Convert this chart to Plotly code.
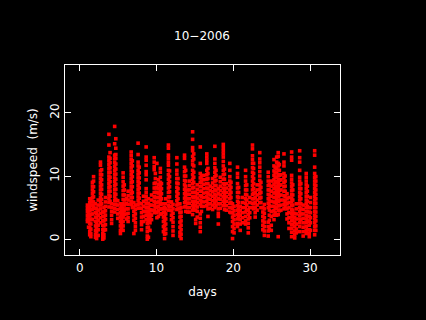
import plotly.graph_objects as go

# one strip of readings per time slice: day, then the speeds (m/s) seen there
STRIP_DAYS = [
    1.0, 1.15, 1.3, 1.45, 1.65, 1.8, 2.05, 2.2, 2.4, 2.7, 2.85, 3.0, 3.15, 3.35, 3.8, 3.95,
    4.15, 4.55, 4.7, 4.95, 5.3, 5.45, 5.65, 5.8, 6.1, 6.3, 6.7, 6.85, 7.05, 7.25, 7.6, 7.75,
    8.05, 8.3, 8.65, 8.8, 8.95, 9.15, 9.35, 9.7, 9.85, 10.05, 10.25, 10.5, 10.65, 10.9, 11.05, 11.2,
    11.55, 11.7, 11.95, 12.15, 12.65, 12.8, 13.05, 13.2, 13.65, 13.8, 14.05, 14.3, 14.7, 14.85, 15.1, 15.3,
    15.7, 15.85, 16.15, 16.55, 16.7, 17.0, 17.3, 17.6, 17.75, 18.05, 18.3, 18.7, 18.85, 19.1, 19.55, 19.7,
    19.9, 20.1, 20.55, 20.7, 20.9, 21.2, 21.6, 21.75, 21.95, 22.15, 22.5, 22.65, 22.85, 23.1, 23.45, 23.6,
    23.85, 24.05, 24.55, 24.7, 24.95, 25.3, 25.45, 25.65, 25.85, 26.0, 26.2, 26.6, 26.75, 27.0, 27.25, 27.6,
    27.75, 28.0, 28.2, 28.65, 28.8, 29.1, 29.5, 29.65, 29.9, 30.05, 30.6, 30.75,
]
STRIP_SPEEDS = [
    [5.4, 4.9, 4.4, 3.8, 3.2, 2.8],
    [5.2, 4.6, 4.0, 3.4, 2.8, 1.9],
    [6.4, 5.8, 5.1, 4.5, 3.8, 3.1, 2.5, 1.8, 1.2, 0.7],
    [6.2, 5.4, 4.7, 3.9, 3.2, 2.4, 1.6, 0.9, 0.4],
    [9.0, 8.4, 7.8, 7.2, 6.6, 6.0, 5.4, 4.7, 4.0, 3.1],
    [9.9, 9.2, 8.3, 7.5, 6.7, 5.9, 5.1],
    [5.6, 4.9, 4.2, 3.5, 2.8, 2.1, 1.4, 0.8, 0.3],
    [4.8, 4.1, 3.4, 2.6, 1.9, 1.2, 0.6, 0.1],
    [6.2, 5.4, 4.6, 3.8, 3.0, 2.2, 1.5, 0.6],
    [12.2, 11.7, 10.8, 10.2, 9.6, 9.0, 8.4, 7.8, 7.2, 6.6, 6.0, 5.4, 4.8, 4.1, 3.4, 2.6],
    [11.0, 10.2, 9.4, 8.6, 7.9, 7.1, 6.3, 5.6],
    [4.3, 3.6, 2.9, 2.2, 1.5, 0.9, 0.4, 0.0],
    [5.0, 4.3, 3.6, 2.9, 2.1, 1.4, 0.7, 0.2],
    [6.6, 5.9, 5.2, 4.5, 3.8, 3.1, 2.3, 1.5],
    [16.6, 14.9, 13.0, 12.4, 11.8, 11.2, 10.6, 10.0, 9.4, 8.8, 8.2, 7.6, 7.0, 6.4, 5.8, 5.1],
    [13.7, 12.8, 12.1, 11.3, 10.6, 9.8, 9.1, 8.3, 7.6, 6.8, 6.0],
    [5.6, 5.0, 4.4, 3.8, 3.1, 2.5],
    [17.85, 15.1, 13.3, 12.7, 12.1, 11.5, 10.9, 10.3, 9.7, 9.1, 8.5, 7.9, 7.3, 6.7, 6.1, 5.5, 4.9, 4.3],
    [15.9, 14.4, 13.4, 12.8, 11.9, 11.1, 10.3, 9.5, 8.7, 7.9, 7.1, 6.3, 5.5],
    [6.1, 5.4, 4.7, 4.0, 3.3],
    [5.6, 4.9, 4.2, 3.5, 2.8, 2.1, 1.4, 0.9],
    [5.2, 4.5, 3.8, 3.1, 2.4, 1.7],
    [10.5, 9.8, 9.1, 8.4, 7.7, 7.0, 6.3, 5.6, 4.9, 4.2, 3.5, 2.8, 2.1, 1.4],
    [8.6, 7.8, 7.0, 6.2, 5.4, 4.6, 3.9],
    [6.4, 5.6, 4.8, 4.0, 3.2],
    [7.6, 6.9, 6.2, 5.5, 4.8, 4.1, 3.4, 2.8],
    [13.8, 13.2, 12.6, 12.0, 11.4, 10.8, 10.2, 9.6, 9.0, 8.4, 7.8, 7.2, 6.6, 6.0, 5.5],
    [12.4, 11.6, 10.7, 9.9, 9.1, 8.3, 7.4, 6.6, 5.8, 5.0],
    [5.8, 5.1, 4.4, 3.7, 3.0, 0.9],
    [5.4, 4.7, 4.0, 3.3, 2.6, 2.0, 1.4],
    [15.2, 13.4, 12.2, 11.6, 10.9, 10.3, 9.7, 9.1, 8.5, 7.9, 7.3, 6.7, 6.1, 5.5, 4.9],
    [11.4, 10.5, 9.7, 8.9, 8.1, 7.3, 6.5, 5.7, 4.9],
    [5.6, 4.9, 4.2, 3.5, 2.8, 2.3, 1.5],
    [6.8, 6.0, 5.2, 4.4, 3.6, 2.8],
    [14.6, 13.0, 12.5, 11.7, 10.7, 10.2, 9.4, 8.0, 7.4, 6.8, 6.2, 5.6, 5.0, 4.4, 3.8, 3.1],
    [5.0, 4.4, 3.8, 3.1, 2.5, 1.8, 1.2, 0.5, 0.0],
    [6.4, 5.7, 5.0, 4.3, 3.6, 2.8, 1.9, 0.3],
    [5.4, 4.7, 4.0, 3.3, 2.6, 1.4],
    [7.0, 6.2, 5.4, 4.6, 3.8, 3.1],
    [12.9, 12.2, 11.5, 11.0, 8.8, 8.1, 7.4, 6.7, 6.0, 5.3, 4.6, 4.2],
    [10.4, 9.6, 8.9, 8.1, 7.4, 6.6, 5.8, 5.1, 4.3],
    [12.0, 8.2, 7.4, 6.6, 5.8, 5.0, 4.2, 3.4],
    [9.4, 8.7, 8.0, 7.3, 6.6, 5.9, 5.2, 4.5, 3.6],
    [11.2, 10.6, 9.8, 9.0, 8.3, 7.6, 6.9, 6.2, 5.5, 4.8, 4.0],
    [8.8, 8.0, 7.2, 6.4, 5.6, 4.8, 4.0],
    [5.6, 4.9, 4.2, 3.5, 2.8, 2.0, 1.2],
    [5.0, 4.3, 3.6, 2.9, 2.2, 1.5, 0.8, 0.1],
    [6.4, 5.6, 4.8, 4.0, 3.2, 2.4, 1.6, 0.9],
    [14.9, 14.4, 13.3, 12.8, 12.2, 11.7, 10.9, 10.2, 9.5, 8.8, 8.1, 7.4, 6.7, 6.0, 5.3, 4.6],
    [10.8, 9.9, 9.1, 8.3, 7.5, 6.7, 5.9, 5.1],
    [5.9, 5.2, 4.5, 3.8, 3.1],
    [5.5, 4.8, 4.1, 3.4, 2.7, 2.0, 1.3, 0.6],
    [12.9, 11.9, 10.9, 10.3, 9.6, 8.9, 8.2, 7.5, 6.8, 6.1, 5.4, 4.7],
    [9.6, 8.8, 8.0, 7.2, 6.4, 5.6, 4.8],
    [5.6, 4.9, 4.2, 3.5, 2.7, 1.9, 1.1, 0.5],
    [5.0, 4.3, 3.6, 2.9, 2.2, 1.5, 0.8, 0.1],
    [13.3, 12.8, 11.4, 10.7, 10.0, 9.3, 8.6, 7.9, 7.2, 6.5, 5.8, 5.1],
    [10.9, 10.0, 9.2, 8.4, 7.6, 6.8, 6.0, 5.2, 4.4],
    [7.8, 7.1, 6.4, 5.7, 5.0, 4.3],
    [9.2, 8.5, 7.8, 7.1, 6.4, 5.7, 5.0, 4.3],
    [17.0, 15.8, 14.5, 14.0, 13.1, 12.4, 11.8, 10.9, 10.2, 9.5, 8.8, 8.1, 7.4, 6.7, 6.0, 5.3, 4.6, 3.9],
    [13.5, 12.7, 11.6, 10.6, 9.8, 9.0, 8.2, 7.4, 6.6, 5.8, 5.0],
    [7.4, 6.7, 6.0, 5.3, 4.6, 3.1, 2.5],
    [8.6, 7.9, 7.2, 6.5, 5.8, 5.1, 4.4, 3.5],
    [14.6, 12.0, 10.4, 9.7, 9.0, 8.3, 7.6, 6.9, 6.2, 5.5, 4.0, 3.3, 2.6, 1.9, 1.2],
    [10.0, 9.2, 8.4, 7.6, 6.8, 6.0, 5.2, 4.4],
    [10.1, 9.4, 8.7, 8.0, 7.3, 6.6, 5.9, 5.2],
    [13.5, 13.0, 12.5, 12.0, 10.9, 10.2, 9.5, 8.8, 8.1, 7.4, 6.7, 6.0, 5.3],
    [11.2, 10.4, 9.6, 8.8, 8.0, 7.2, 6.4, 5.6, 4.8, 3.6],
    [8.4, 7.7, 7.0, 6.3, 5.6, 4.9],
    [9.6, 8.9, 8.2, 7.5, 6.8, 6.1, 5.4, 4.7],
    [14.7, 12.7, 12.0, 11.3, 10.6, 9.9, 9.2, 8.5, 7.8, 7.1, 6.4, 5.7, 5.0],
    [10.9, 10.1, 9.3, 8.5, 7.7, 6.9, 6.1, 5.3],
    [8.0, 7.2, 6.4, 5.6, 4.8, 4.1, 3.6, 2.4],
    [9.8, 9.1, 8.4, 7.7, 7.0, 6.3, 5.6, 4.9],
    [15.0, 14.5, 14.0, 13.5, 13.0, 12.3, 11.6, 10.9, 10.2, 9.5, 8.8, 8.1, 7.4, 6.7, 6.0, 5.3],
    [11.1, 10.3, 9.5, 8.7, 7.9, 7.1, 6.3, 5.5, 4.7],
    [8.8, 8.1, 7.4, 6.7, 6.0, 5.3, 4.6],
    [12.0, 10.9, 9.9, 9.2, 8.5, 7.8, 7.1, 6.4, 5.7, 5.0, 4.3],
    [9.0, 8.2, 7.4, 6.6, 5.8, 5.0, 4.2],
    [5.6, 4.9, 4.2, 3.5, 2.8, 2.0, 1.2, 0.1],
    [5.2, 4.5, 3.8, 3.1, 2.4, 1.7, 1.0],
    [11.4, 10.4, 9.8, 8.8, 8.1, 7.4, 6.7, 6.0, 5.3, 4.6, 3.9, 3.2, 2.5, 2.0],
    [8.2, 7.4, 6.6, 5.8, 5.0, 4.2, 3.4],
    [5.2, 4.5, 3.8, 3.1, 2.4, 1.4],
    [6.6, 5.8, 5.0, 4.2, 3.4, 2.6],
    [10.9, 9.9, 9.2, 8.5, 7.8, 7.1, 6.4, 5.7, 5.0, 4.3, 3.6, 2.9, 2.4],
    [8.6, 7.8, 7.0, 6.2, 5.4, 4.6],
    [4.6, 3.9, 3.2, 2.5, 1.8, 1.0],
    [6.6, 5.8, 5.0, 4.2, 3.4],
    [14.9, 14.3, 13.2, 12.6, 12.0, 11.3, 10.6, 9.9, 9.2, 8.5, 7.8, 7.1, 6.4, 5.7, 5.0],
    [12.0, 11.2, 10.4, 9.6, 8.8, 8.0, 7.2, 6.4, 5.6, 4.8],
    [7.4, 6.6, 5.8, 5.0, 4.2, 3.5],
    [8.6, 7.8, 7.0, 6.2, 5.4, 4.6],
    [13.7, 12.7, 12.1, 11.4, 10.7, 10.0, 9.3, 8.6, 7.9, 7.2, 6.5, 5.8],
    [9.0, 8.2, 7.4, 6.6, 5.8, 5.0],
    [5.0, 4.3, 3.6, 2.9, 2.2, 1.5],
    [5.5, 4.8, 4.1, 3.4, 2.7, 2.0, 1.3, 0.6],
    [10.6, 9.9, 9.2, 8.5, 7.8, 7.1, 6.4, 5.7, 5.0, 2.7, 2.0, 1.3, 0.5],
    [8.6, 7.8, 7.0, 6.2, 5.4, 4.6, 3.8, 3.0, 1.6],
    [9.2, 8.4, 7.6, 6.8, 6.0, 5.2, 4.4, 3.6, 2.2, 1.4],
    [12.6, 11.6, 10.8, 10.1, 9.4, 8.7, 8.0, 7.3, 6.6, 5.9, 5.2, 4.5, 3.8, 3.1],
    [11.4, 10.6, 9.8, 9.0, 8.2, 7.4, 6.6, 5.8, 5.0, 4.2],
    [13.0, 12.2, 11.2, 10.5, 9.8, 9.1, 8.4, 7.7, 7.0, 6.3, 5.6, 4.9, 3.8],
    [13.7, 13.1, 12.0, 11.6, 10.9, 10.2, 9.5, 8.8, 8.1, 7.4, 6.7, 6.0, 5.3, 4.6, 3.9, 0.4],
    [11.8, 10.9, 10.1, 9.3, 8.5, 7.7, 6.9, 6.1, 5.3, 4.5],
    [10.2, 9.4, 8.6, 7.8, 7.0, 6.2, 5.4, 4.6],
    [13.5, 12.2, 11.6, 10.4, 9.7, 9.0, 8.3, 7.6, 6.9, 6.2, 5.5, 4.8],
    [10.0, 9.2, 8.4, 7.6, 6.8, 6.0, 5.2],
    [7.2, 6.4, 5.6, 4.8, 4.0, 3.2],
    [6.6, 5.8, 5.0, 4.2, 3.4, 2.6, 1.7],
    [13.8, 13.0, 12.5, 10.1, 9.5, 8.9, 8.3, 7.7, 7.1, 6.5, 5.9, 5.3, 4.7, 4.1, 3.5, 2.9, 2.3, 1.7, 1.1, 0.4],
    [8.6, 7.8, 7.0, 6.2, 5.4, 4.6, 3.8, 3.0, 2.3],
    [4.1, 3.4, 2.7, 2.0, 1.3, 0.7, 0.2],
    [5.6, 4.8, 4.0, 3.2, 2.4, 1.6, 1.0],
    [14.0, 12.9, 12.2, 10.9, 9.8, 9.2, 8.6, 8.0, 7.4, 6.8, 6.2, 5.6, 5.0, 4.4, 3.8, 3.2, 2.6, 2.0, 1.2],
    [8.8, 8.0, 7.2, 6.4, 5.6, 4.8, 4.0, 3.1],
    [5.4, 4.7, 4.0, 3.3, 2.6, 1.9, 1.2, 0.5],
    [10.4, 9.8, 9.2, 8.6, 8.0, 7.4, 6.8, 6.2, 5.6, 5.0, 4.4, 3.8, 3.2, 2.6, 2.0, 1.4, 0.9],
    [8.4, 7.6, 6.8, 6.0, 5.2, 4.4, 3.6, 2.8, 1.5],
    [5.0, 4.3, 3.6, 2.9, 2.2, 1.5, 0.9, 0.4],
    [6.6, 5.8, 5.0, 4.2, 3.4, 2.6, 1.4],
    [14.0, 13.3, 11.4, 10.4, 9.8, 9.2, 8.6, 8.0, 7.4, 6.8, 6.2, 5.6, 5.0, 4.4, 3.8, 3.2, 2.6, 2.0, 1.4, 0.7],
    [9.9, 9.2, 8.5, 7.8, 7.1, 6.4, 5.7, 5.0, 4.3, 3.6, 2.9, 2.1, 1.4],
]
X_TICKS = [0, 10, 20, 30]
Y_TICKS = [0, 10, 20]
MONTH = "10\u22122006"

xs, ys = [], []
for day, speeds in zip(STRIP_DAYS, STRIP_SPEEDS):
    xs.extend([day] * len(speeds))
    ys.extend(speeds)

fig = go.Figure(go.Scatter(x=xs, y=ys, mode="markers", hoverinfo="skip",
                           marker=dict(symbol="square", size=3.6, color="#ff0000", line=dict(width=0))))

axis = dict(showline=True, linecolor="white", linewidth=1, mirror="ticks", ticks="inside", ticklen=6,
            tickcolor="white", tickwidth=1, showgrid=False, zeroline=False,
            tickfont=dict(size=12, color="white"), title_font=dict(size=12, color="white"))
fig.update_xaxes(axis, range=[-1.92, 33.9], tickvals=X_TICKS, ticklabelstandoff=2,
                 title_text="days", title_standoff=13)
fig.update_yaxes(axis, range=[-2.5, 27.57], tickvals=Y_TICKS, tickangle=-90,
                 title_text="windspeed  (m/s)", title_font_size=12, title_standoff=8)

fig.update_layout(
    width=426, height=320, autosize=False, showlegend=False,
    paper_bgcolor="black", plot_bgcolor="black",
    font=dict(family="DejaVu Sans", color="white", size=12),
    title=dict(text=MONTH, x=202 / 426, xanchor="center", y=1 - 36 / 320, yanchor="middle",
               font=dict(size=12, color="white")),
    margin=dict(l=65, r=86, t=65, b=65, pad=0),
)
fig.write_html("out.html", config=dict(displayModeBar=False),
               post_script="document.body.style.margin='0';document.body.style.background='black';")
